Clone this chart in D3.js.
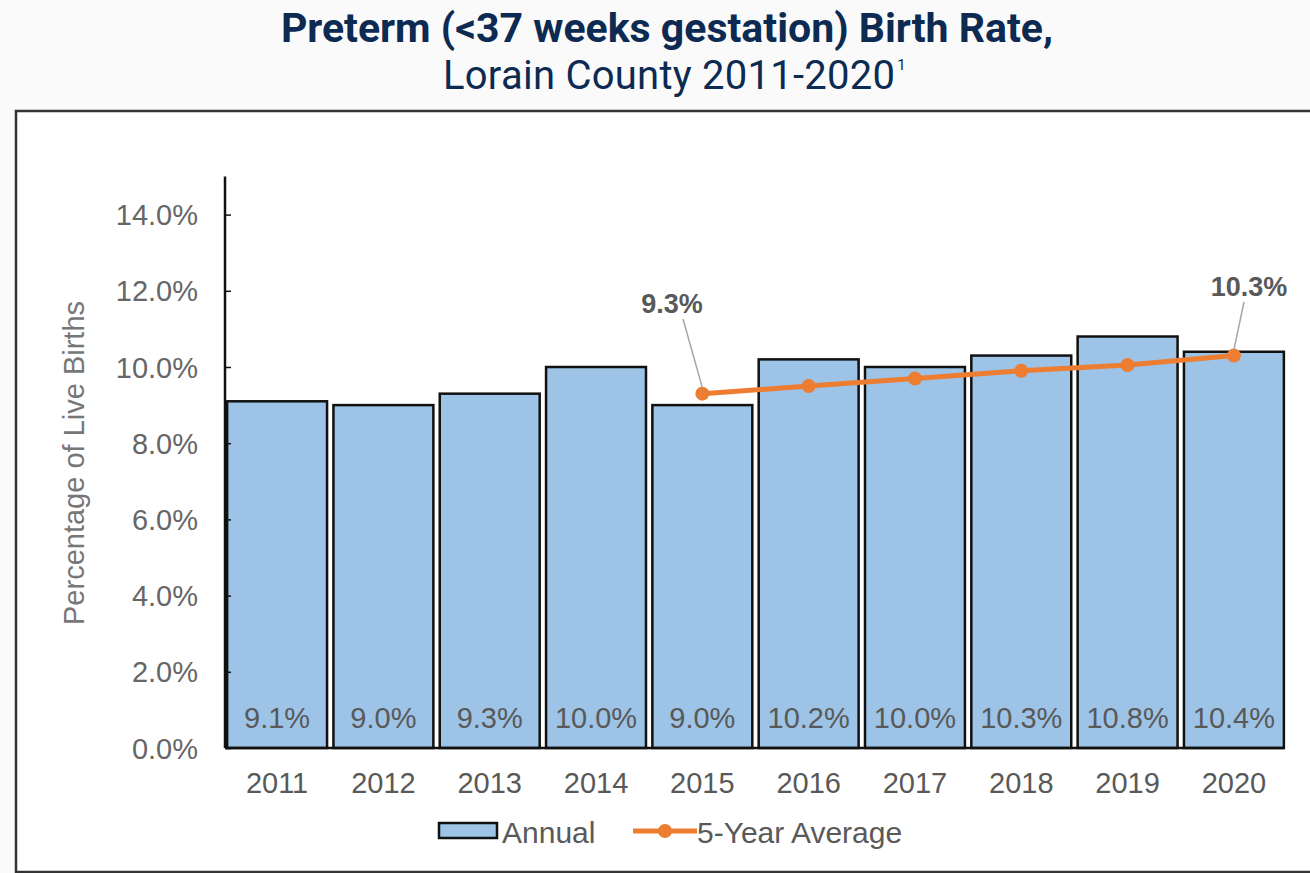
<!DOCTYPE html>
<html>
<head>
<meta charset="utf-8">
<script src="https://cdn.jsdelivr.net/npm/d3@7"></script>
<style>
  body { margin: 0; background: #fafafa; }
  svg { display: block; }
</style>
</head>
<body>
<div id="chart"></div>
<script>
var years = ["2011", "2012", "2013", "2014", "2015", "2016", "2017", "2018", "2019", "2020"];
var annual = [9.1, 9.0, 9.3, 10.0, 9.0, 10.2, 10.0, 10.3, 10.8, 10.4];
var avgYears = ["2015", "2016", "2017", "2018", "2019", "2020"];
var fiveYearAvg = [9.3, 9.5, 9.7, 9.9, 10.05, 10.3];
var yTicks = [0, 2, 4, 6, 8, 10, 12, 14];

var width = 1310, height = 873;
var grayText = "#595959";
var barFill = "#9dc3e6";
var orange = "#ed7d31";
var font = "Liberation Sans";

var svg = d3.select("#chart").append("svg")
    .attr("width", width)
    .attr("height", height);

// title
svg.append("text")
    .attr("x", 667).attr("y", 42)
    .attr("text-anchor", "middle")
    .style("font-family", "Roboto")
    .style("font-weight", "700")
    .style("font-size", "41px")
    .attr("fill", "#0c2a52")
    .text("Preterm (<37 weeks gestation) Birth Rate,");

var sub = svg.append("text")
    .attr("x", 443).attr("y", 89)
    .style("font-family", "Roboto")
    .style("font-size", "40px")
    .attr("fill", "#0c2a52");
sub.append("tspan").attr("textLength", 452).text("Lorain County 2011-2020");
sub.append("tspan").attr("dx", 2).attr("dy", -19).style("font-size", "15px").text("1");

// frame
svg.append("rect")
    .attr("x", 16).attr("y", 111)
    .attr("width", width).attr("height", 761)
    .attr("fill", "#fff")
    .attr("stroke", "#333")
    .attr("stroke-width", 2.5);

var x = d3.scaleBand().domain(years).range([225, 1286]).paddingInner(0.06).paddingOuter(0.02);
var y = d3.scaleLinear().domain([0, 15]).range([748, 176.5]);

var g = svg.append("g");

// bars
g.selectAll(".bar")
    .data(annual)
    .enter().append("rect")
    .attr("class", "bar")
    .attr("x", function(d, i) { return x(years[i]); })
    .attr("y", function(d) { return y(d); })
    .attr("width", x.bandwidth())
    .attr("height", function(d) { return y(0) - y(d); })
    .attr("fill", barFill)
    .attr("stroke", "#111")
    .attr("stroke-width", 2.5);

// bar labels
g.selectAll(".blabel")
    .data(annual)
    .enter().append("text")
    .attr("x", function(d, i) { return x(years[i]) + x.bandwidth() / 2; })
    .attr("y", 728)
    .attr("text-anchor", "middle")
    .style("font-family", font)
    .style("font-size", "29px")
    .attr("fill", grayText)
    .text(function(d) { return d.toFixed(1) + "%"; });

// y axis
var yAxis = g.append("g")
    .attr("transform", "translate(225,0)")
    .call(d3.axisRight(y).tickValues(yTicks).tickSize(6).tickFormat(function() { return ""; }));
yAxis.select(".domain").attr("d", "M0," + y(15) + "V" + y(0)).attr("stroke", "#111").attr("stroke-width", 2.5);
yAxis.selectAll(".tick line").attr("stroke", "#111").attr("stroke-width", 1.5);

g.selectAll(".ylab")
    .data(yTicks)
    .enter().append("text")
    .attr("x", 198)
    .attr("y", function(d) { return y(d) + 10.5; })
    .attr("text-anchor", "end")
    .style("font-family", font)
    .style("font-size", "29px")
    .attr("fill", "#666")
    .text(function(d) { return d.toFixed(1) + "%"; });

// baseline
g.append("line")
    .attr("x1", 225).attr("x2", x.range()[1] - 2)
    .attr("y1", y(0)).attr("y2", y(0))
    .attr("stroke", "#111").attr("stroke-width", 2.5);

// x labels
g.selectAll(".xlab")
    .data(years)
    .enter().append("text")
    .attr("x", function(d) { return x(d) + x.bandwidth() / 2; })
    .attr("y", 793)
    .attr("text-anchor", "middle")
    .style("font-family", font)
    .style("font-size", "29px")
    .attr("fill", grayText)
    .text(function(d) { return d; });

// y axis title
g.append("text")
    .attr("transform", "translate(84,463) rotate(-90)")
    .attr("text-anchor", "middle")
    .style("font-family", font)
    .style("font-size", "29px")
    .attr("fill", "#777")
    .text("Percentage of Live Births");

// 5-year average line
var line = d3.line()
    .x(function(d, i) { return x(avgYears[i]) + x.bandwidth() / 2; })
    .y(function(d) { return y(d); });

g.append("path")
    .datum(fiveYearAvg)
    .attr("d", line)
    .attr("fill", "none")
    .attr("stroke", orange)
    .attr("stroke-width", 5);

g.selectAll(".dot")
    .data(fiveYearAvg)
    .enter().append("circle")
    .attr("cx", function(d, i) { return x(avgYears[i]) + x.bandwidth() / 2; })
    .attr("cy", function(d) { return y(d); })
    .attr("r", 7)
    .attr("fill", orange);

// callouts for first and last average
var callouts = [
    {i: 0, lx: 672, ly: 313, tx: 683, ty: 319},
    {i: fiveYearAvg.length - 1, lx: 1249, ly: 296, tx: 1244, ty: 302}
];
callouts.forEach(function(c) {
    var px = x(avgYears[c.i]) + x.bandwidth() / 2, py = y(fiveYearAvg[c.i]);
    g.append("line")
        .attr("x1", c.tx).attr("y1", c.ty)
        .attr("x2", px).attr("y2", py - 6)
        .attr("stroke", "#a6a6a6").attr("stroke-width", 1.5);
    g.append("text")
        .attr("x", c.lx).attr("y", c.ly)
        .attr("text-anchor", "middle")
        .style("font-family", font)
        .style("font-weight", "700")
        .style("font-size", "27px")
        .attr("fill", "#595959")
        .text(fiveYearAvg[c.i].toFixed(1) + "%");
});

// legend
var lg = svg.append("g");
lg.append("rect")
    .attr("x", 439).attr("y", 823).attr("width", 58).attr("height", 15)
    .attr("fill", barFill).attr("stroke", "#111").attr("stroke-width", 2.5);
lg.append("text")
    .attr("x", 502).attr("y", 843)
    .style("font-family", font).style("font-size", "30px")
    .attr("fill", grayText).text("Annual");
lg.append("line")
    .attr("x1", 633).attr("x2", 697).attr("y1", 831).attr("y2", 831)
    .attr("stroke", orange).attr("stroke-width", 5);
lg.append("circle")
    .attr("cx", 665).attr("cy", 831).attr("r", 7).attr("fill", orange);
lg.append("text")
    .attr("x", 697).attr("y", 843)
    .style("font-family", font).style("font-size", "30px")
    .attr("fill", grayText).text("5-Year Average");
</script>
</body>
</html>
